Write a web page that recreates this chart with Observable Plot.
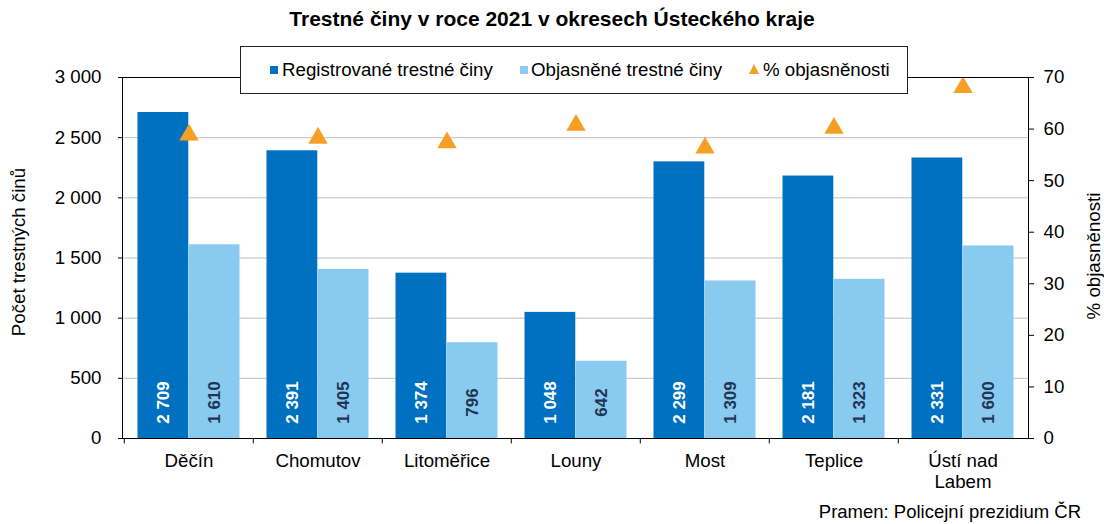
<!DOCTYPE html>
<html><head><meta charset="utf-8">
<script src="https://cdn.jsdelivr.net/npm/d3@7"></script>
<script src="https://cdn.jsdelivr.net/npm/@observablehq/plot@0.6"></script>
<style>
body{margin:0;background:#fff;font-family:"Liberation Sans",Arial,sans-serif;color:#000;}
#wrap{position:relative;width:1104px;height:524px;overflow:hidden;}
#chart{position:absolute;left:0;top:0;}
#title{position:absolute;left:0;width:1104px;top:7px;text-align:center;font-weight:bold;font-size:21px;line-height:24px;}
#legend{position:absolute;left:240px;top:46px;width:668px;height:48px;border:1px solid #222;background:#fff;box-sizing:border-box;font-size:18.7px;}
#legend .t{position:absolute;top:0;line-height:46px;white-space:nowrap;}
#legend .sq{position:absolute;top:19px;width:8px;height:8px;}
#legend svg{position:absolute;top:16px;}
#caption{position:absolute;right:23px;top:502px;font-size:18.5px;line-height:20px;}
</style>
</head><body>
<div id="wrap">
  <div id="chart"></div>
  <div id="title">Trestné činy v roce 2021 v okresech Ústeckého kraje</div>
  <div id="legend">
    <span class="sq" style="left:29px;background:#0070C0"></span><span class="t" style="left:41px">Registrované trestné činy</span>
    <span class="sq" style="left:279px;background:#89CAF0"></span><span class="t" style="left:290px">Objasněné trestné činy</span>
    <svg width="12" height="12" style="left:507px"><polygon points="6,1 11,11 1,11" fill="#F5A025"/></svg><span class="t" style="left:522px">% objasněnosti</span>
  </div>
  <div id="caption">Pramen: Policejní prezidium ČR</div>
</div>
<script>
const districts = ["Děčín", "Chomutov", "Litoměřice", "Louny", "Most", "Teplice", "Ústí nad\nLabem"];
const registered = [2709, 2391, 1374, 1048, 2299, 2181, 2331];
const solved = [1610, 1405, 796, 642, 1309, 1323, 1600];
const solvedPct = [59.4, 58.8, 57.9, 61.3, 56.9, 60.7, 68.6];
const leftTicks = [0, 500, 1000, 1500, 2000, 2500, 3000];
const rightTicks = [0, 10, 20, 30, 40, 50, 60, 70];
const yLabel = "Počet trestných činů";
const y2Label = "% objasněnosti";

const rows = districts.map((d, i) => ({district: d, reg: registered[i], obj: solved[i], pct: solvedPct[i]}));
const fmt = d3.formatLocale({decimal: ",", thousands: "\u00a0", grouping: [3], currency: ["", ""]}).format(",d");

const W = 1104, H = 524, ML = 122, MR = 76, MT = 77, MB = 86;
const bw = (W - ML - MR) / districts.length;
const half = bw / 2, pad = 13.5;
const off = (half - pad) / 2;
const yMax = leftTicks[leftTicks.length - 1], y2Max = rightTicks[rightTicks.length - 1];
const k = yMax / y2Max;
const FS = 18.7;

const chart = Plot.plot({
  width: W, height: H,
  marginLeft: ML, marginRight: MR, marginTop: MT, marginBottom: MB,
  style: {fontFamily: "'Liberation Sans', Arial, sans-serif", fontSize: FS + "px", background: "white", color: "black"},
  x: {type: "band", domain: districts, padding: 0, axis: null},
  y: {domain: [0, yMax], axis: null},
  marks: [
    Plot.gridY(leftTicks.slice(1, -1), {stroke: "#c0c0c0", strokeOpacity: 1}),
    Plot.barY(rows, {x: "district", y: "reg", fill: "#0070C0", insetLeft: pad, insetRight: half}),
    Plot.barY(rows, {x: "district", y: "obj", fill: "#89CAF0", insetLeft: half, insetRight: pad}),
    Plot.text(rows, {x: "district", text: d => fmt(d.reg), frameAnchor: "bottom", textAnchor: "middle", lineAnchor: "middle", dy: -36, dx: -off, rotate: -90, fill: "white", fontWeight: "bold", fontSize: 17}),
    Plot.text(rows, {x: "district", text: d => fmt(d.obj), frameAnchor: "bottom", textAnchor: "middle", lineAnchor: "middle", dy: -36, dx: off, rotate: -90, fill: "#1F3552", fontWeight: "bold", fontSize: 17}),
    Plot.dot(rows, {x: "district", y: d => d.pct * k, symbol: "triangle", r: 7.2, fill: "#F5A025", stroke: "none", dy: 2.8}),
    Plot.frame({stroke: "black"}),
    Plot.ruleX(districts, {x: d => d, y1: 0, y2: -45, dx: -half, stroke: "black"}),
    Plot.axisY(leftTicks, {anchor: "left", tickSize: 4, tickPadding: 17, tickFormat: fmt, label: null, fontSize: FS}),
    Plot.axisY(rightTicks.map(v => v * k), {anchor: "right", tickSize: 5, tickPadding: 10, tickFormat: v => Math.round(v / k), label: null, fontSize: FS}),
    Plot.axisX({anchor: "bottom", tickSize: 0, tickPadding: 13, label: null, fontSize: FS, lineHeight: 1.15}),
    Plot.text([yLabel], {frameAnchor: "left", textAnchor: "middle", lineAnchor: "middle", dx: -103, dy: -6, rotate: -90, fontSize: FS}),
    Plot.text([y2Label], {frameAnchor: "right", textAnchor: "middle", lineAnchor: "middle", dx: 66, dy: -2, rotate: -90, fontSize: FS})
  ]
});
document.getElementById("chart").appendChild(chart);
</script>
</body></html>
